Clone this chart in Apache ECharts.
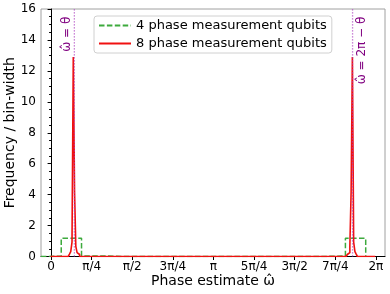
<!DOCTYPE html>
<html>
<head>
<meta charset="utf-8">
<script src="https://cdn.jsdelivr.net/npm/echarts@6/dist/echarts.min.js"></script>
<style>html,body{margin:0;padding:0;background:#fff}#c{width:390px;height:294px}</style>
</head>
<body>
<div id="c"></div>
<script>
// ---- data ----
const theta = 0.4507;                       // true phase (rad)
const xTickValues = [0, Math.PI/4, Math.PI/2, 3*Math.PI/4, Math.PI, 5*Math.PI/4, 3*Math.PI/2, 7*Math.PI/4, 2*Math.PI];
const xTickLabels = ['0', 'π/4', 'π/2', '3π/4', 'π', '5π/4', '3π/2', '7π/4', '2π'];
const yTickLabels = [0, 2, 4, 6, 8, 10, 12, 14, 16];

const seriesNames = ['4 phase measurement qubits', '8 phase measurement qubits'];

// 4 qubits: 16 bins (centered at k*2π/16), non-zero bins and their frequency/bin-width
const greenBinCount = 16;
const greenBins   = [0,    1,    2,    14,   15];
const greenValues = [0.02, 1.18, 0.04, 0.04, 1.18];

// 8 qubits: 256 bins (centered at k*2π/256)
const redBinCount = 256;
const redBins   = [15,   16,   17,   18,   19,  20,   21,   22,   234,  235,  236,  237, 238,  239,  240,  241];
const redValues = [0.15, 0.31, 0.93, 12.9, 4.2, 0.65, 0.25, 0.13, 0.13, 0.25, 0.65, 4.2, 12.9, 0.93, 0.31, 0.15];

// ---- build step outlines ----
function stepOutline(nb, bins, vals) {
  const w = 2 * Math.PI / nb;
  const h = new Array(nb).fill(0);
  bins.forEach((b, i) => { h[b] = vals[i]; });
  const pts = [[-w / 2, 0]];
  for (let k = 0; k < nb; k++) pts.push([(k - 0.5) * w, h[k]]);
  pts.push([(nb - 0.5) * w, h[nb - 1]]);
  pts.push([(nb - 0.5) * w, 0]);
  return pts;
}

const FONT = 'DejaVu Sans';
const chart = echarts.init(document.getElementById('c'), null, {renderer: 'canvas'});

const option = {
  animation: false,
  backgroundColor: '#fff',
  grid: {left: 41, right: 5, top: 9, bottom: 37.5, show: true, borderColor: '#a0a0a0', borderWidth: 1,
    containLabel: false, outerBoundsMode: 'none'},
  xAxis: {
    type: 'value', min: -0.195, max: 6.46,
    axisLine: {show: true, lineStyle: {color: '#000', width: 1}},
    axisTick: {show: true, customValues: xTickValues, length: 3.5, lineStyle: {color: '#000'}},
    axisLabel: {show: true, customValues: xTickValues, fontFamily: FONT, fontSize: 12, color: '#000', margin: 4,
      formatter: v => { const i = xTickValues.findIndex(t => Math.abs(t - v) < 1e-6); return i >= 0 ? xTickLabels[i] : ''; }},
    splitLine: {show: false},
    name: 'Phase estimate ω̂', nameLocation: 'middle', nameGap: 18, nameMoveOverlap: false,
    nameTextStyle: {fontFamily: FONT, fontSize: 14, color: '#000'}
  },
  yAxis: {
    type: 'value', min: 0, max: 16, interval: 2,
    axisLine: {show: true, lineStyle: {color: '#000', width: 1}},
    axisTick: {show: true, length: 3.5, lineStyle: {color: '#000'}},
    minorTick: {show: true, splitNumber: 4, length: 2, lineStyle: {color: '#000'}},
    axisLabel: {fontFamily: FONT, fontSize: 12, color: '#000', margin: 5,
      formatter: v => yTickLabels.includes(v) ? String(v) : ''},
    splitLine: {show: false},
    name: 'Frequency / bin-width', nameLocation: 'middle', nameGap: 24, nameMoveOverlap: false,
    nameTextStyle: {fontFamily: FONT, fontSize: 14, color: '#000'}
  },
  legend: {
    orient: 'vertical', left: 94, top: 16,
    itemWidth: 32, itemHeight: 14, itemGap: 5,
    padding: [3, 5, 3, 4],
    borderColor: '#d0d0d0', borderWidth: 1, borderRadius: 3,
    backgroundColor: 'rgba(255,255,255,0.85)',
    itemStyle: {opacity: 0},
    textStyle: {fontFamily: FONT, fontSize: 13, color: '#000'},
    data: seriesNames
  },
  series: [
    {
      name: seriesNames[0], type: 'line', step: 'end', symbol: 'none', z: 2,
      data: stepOutline(greenBinCount, greenBins, greenValues),
      lineStyle: {color: '#3daa3d', width: 1.5, type: [5.5, 2.4]},
      itemStyle: {color: '#3daa3d'}
    },
    {
      name: seriesNames[1], type: 'line', step: 'end', symbol: 'none', z: 3,
      data: stepOutline(redBinCount, redBins, redValues),
      lineStyle: {color: '#f01010', width: 1.6},
      itemStyle: {color: '#f01010'}
    },
    {
      name: 'theta', type: 'line', symbol: 'none', z: 4, silent: true,
      data: [[theta, 0], [theta, 16]],
      lineStyle: {color: 'rgba(170,60,190,0.8)', width: 1.3, type: [1.3, 1.7]}
    },
    {
      name: 'theta2', type: 'line', symbol: 'none', z: 4, silent: true,
      data: [[2 * Math.PI - theta, 0], [2 * Math.PI - theta, 16]],
      lineStyle: {color: 'rgba(170,60,190,0.8)', width: 1.3, type: [1.3, 1.7]}
    }
  ]
};
chart.setOption(option);

const p1 = chart.convertToPixel({gridIndex: 0}, [theta, 15.5]);
const p2 = chart.convertToPixel({gridIndex: 0}, [2 * Math.PI - theta, 15.5]);
const labStyle = {
  fill: '#800080', font: '12px "DejaVu Sans"', align: 'right', verticalAlign: 'middle'
};
chart.setOption({
  graphic: [
    {type: 'text', x: p1[0] - 8, y: p1[1], rotation: Math.PI / 2,
      style: Object.assign({text: 'ω̂ = θ'}, labStyle), z: 10},
    {type: 'text', x: p2[0] + 9.5, y: p2[1], rotation: Math.PI / 2,
      style: Object.assign({text: 'ω̂ = 2π − θ'}, labStyle), z: 10}
  ]
});
</script>
</body>
</html>
